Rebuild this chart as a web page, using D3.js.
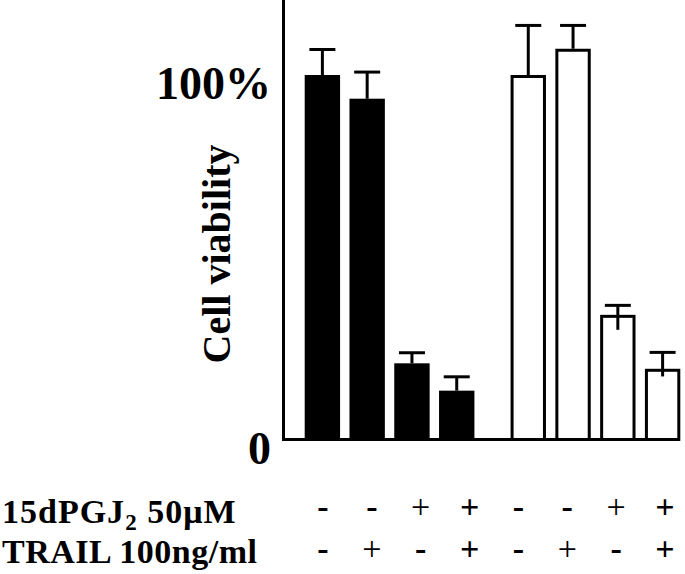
<!DOCTYPE html>
<html>
<head>
<meta charset="utf-8">
<script src="https://cdn.jsdelivr.net/npm/d3@7"></script>
<style>
  html, body { margin: 0; padding: 0; background: #fff; }
  svg { display: block; }
</style>
</head>
<body>
<script>
// ---- data ----
const groups = ["filled", "open"];
const conditions = ["c1", "c2", "c3", "c4"];
const viabilityFilled = [100, 93.5, 20.9, 13.4];
const viabilityOpen = [100, 107.2, 34.2, 19.4];
const errUpFilled = [7.0, 7.3, 2.9, 3.8];
const errUpOpen = [13.6, 6.4, 2.6, 4.5];
const errDownFilled = [0, 0, 0, 0];
const errDownOpen = [0, 0, 4.1, 2.1];
const yTickLabels = ["0", "100%"];
const yTickValues = [0, 100];
const rowLabels = ["15dPGJ", "TRAIL 100ng/ml"];
const pgjSigns = ["-", "-", "+", "+", "-", "-", "+", "+"];
const trailSigns = ["-", "+", "-", "+", "-", "+", "-", "+"];

const W = 685, H = 574;
const svg = d3.select("body").append("svg").attr("width", W).attr("height", H);

const font = "'Liberation Serif', 'Times New Roman', serif";

// scales
const x0 = d3.scaleBand().domain(groups).range([300, 685]).paddingInner(0.13).paddingOuter(0);
const x1 = d3.scaleBand().domain(conditions).range([0, x0.bandwidth()]).paddingInner(0.21).paddingOuter(0.105);
const y = d3.scaleLinear().domain([0, 100]).range([439.5, 75]);

const rows = [];
groups.forEach((g, gi) => {
  const vals = gi === 0 ? viabilityFilled : viabilityOpen;
  const up = gi === 0 ? errUpFilled : errUpOpen;
  const dn = gi === 0 ? errDownFilled : errDownOpen;
  conditions.forEach((c, ci) => {
    rows.push({ g, c, v: vals[ci], up: up[ci], dn: dn[ci], filled: gi === 0 });
  });
});

const sw = 3;
const bars = svg.append("g");
bars.selectAll("rect").data(rows).join("rect")
  .attr("x", d => x0(d.g) + x1(d.c) + sw / 2)
  .attr("width", x1.bandwidth() - sw)
  .attr("y", d => y(d.v) + sw / 2)
  .attr("height", d => y(0) - y(d.v) - sw / 2)
  .attr("fill", d => d.filled ? "#000" : "#fff")
  .attr("stroke", "#000")
  .attr("stroke-width", sw);

const eb = svg.append("g").attr("stroke", "#000").attr("stroke-width", sw);
eb.selectAll("line.v").data(rows).join("line").attr("class", "v")
  .attr("x1", d => x0(d.g) + x1(d.c) + x1.bandwidth() / 2)
  .attr("x2", d => x0(d.g) + x1(d.c) + x1.bandwidth() / 2)
  .attr("y1", d => y(d.v - d.dn))
  .attr("y2", d => y(d.v + d.up));
eb.selectAll("line.cap").data(rows).join("line").attr("class", "cap")
  .attr("x1", d => x0(d.g) + x1(d.c) + x1.bandwidth() / 2 - 13)
  .attr("x2", d => x0(d.g) + x1(d.c) + x1.bandwidth() / 2 + 13)
  .attr("y1", d => y(d.v + d.up))
  .attr("y2", d => y(d.v + d.up));

// axes lines
svg.append("line").attr("x1", 283.5).attr("x2", 283.5).attr("y1", 0).attr("y2", y(0) + 1.5)
  .attr("stroke", "#000").attr("stroke-width", 3);
svg.append("line").attr("x1", 282).attr("x2", 680).attr("y1", y(0)).attr("y2", y(0))
  .attr("stroke", "#000").attr("stroke-width", 3);

// y labels
svg.selectAll("text.ytick").data(yTickValues).join("text").attr("class", "ytick")
  .attr("x", 271)
  .attr("y", d => y(d) + 24)
  .attr("text-anchor", "end")
  .attr("font-family", font).attr("font-weight", "bold").attr("font-size", 46)
  .text((d, i) => yTickLabels[i]);

// y title
svg.append("text")
  .attr("transform", "translate(230,254) rotate(-90)")
  .attr("text-anchor", "middle")
  .attr("font-family", font).attr("font-weight", "bold").attr("font-size", 40)
  .text("Cell viability");

// row labels
const r1 = svg.append("text").attr("x", 2).attr("y", 523)
  .attr("font-family", font).attr("font-weight", "bold").attr("font-size", 34)
  .attr("letter-spacing", 1);
r1.append("tspan").text(rowLabels[0]);
r1.append("tspan").attr("dy", 7).attr("font-size", 23).text("2");
r1.append("tspan").attr("dy", -7).text(" 50μM");
svg.append("text").attr("x", 2).attr("y", 563)
  .attr("font-family", font).attr("font-weight", "bold").attr("font-size", 34)
  .attr("letter-spacing", 0.5)
  .text(rowLabels[1]);

// sign rows
const xs = d3.scalePoint().domain(d3.range(8)).range([323, 665]);
function signRow(signs, other, yy) {
  svg.append("g").selectAll("text").data(signs).join("text")
    .attr("x", (d, i) => xs(i))
    .attr("y", yy)
    .attr("text-anchor", "middle")
    .attr("font-family", font)
    .attr("font-size", 34)
    .attr("font-weight", (d, i) => (d === "-" || other[i] === "+") ? "bold" : "normal")
    .text(d => d);
}
signRow(pgjSigns, trailSigns, 518);
signRow(trailSigns, pgjSigns, 560);
</script>
</body>
</html>
